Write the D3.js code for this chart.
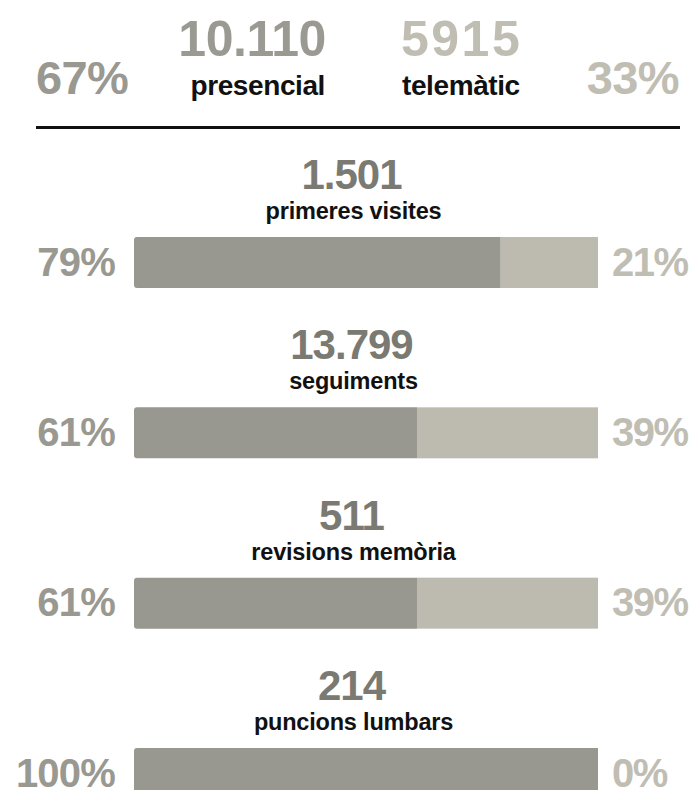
<!DOCTYPE html>
<html>
<head>
<meta charset="utf-8">
<script src="https://cdn.jsdelivr.net/npm/d3@7"></script>
<style>
  html, body { margin: 0; padding: 0; background: #ffffff; }
  svg { display: block; }
  text { font-family: "Liberation Sans", Arial, sans-serif; font-weight: 700; }
</style>
</head>
<body>
<svg id="chart" width="695" height="790"></svg>
<script>
// ---- data ----
const summaryLabels = ["presencial", "telemàtic"];
const summaryTotals = ["10.110", "5915"];
const summaryPct = [67, 33];

const categories = ["primeres visites", "seguiments", "revisions memòria", "puncions lumbars"];
const totals = ["1.501", "13.799", "511", "214"];
const presencialPct = [79, 61, 61, 100];
const telematicPct = [21, 39, 39, 0];

// ---- style ----
const C = {
  dark: "#989890",
  light: "#bdbbb0",
  pctLeft: "#9a9991",
  pctRight: "#c0bdb3",
  num: "#7a7a72",
  topNumLeft: "#9b9a92",
  topNumRight: "#c0bdb2",
  label: "#111111"
};

const svg = d3.select("#chart");
const W = 695;

// ---- header ----
const head = svg.append("g");
head.append("text").attr("x", 36).attr("y", 94)
  .attr("font-size", 47).attr("letter-spacing", -0.6).attr("fill", C.pctLeft)
  .text(summaryPct[0] + "%");
head.append("text").attr("x", 679).attr("y", 94).attr("text-anchor", "end")
  .attr("font-size", 47).attr("letter-spacing", -0.6).attr("fill", C.pctRight)
  .text(summaryPct[1] + "%");

head.append("text").attr("x", 326).attr("y", 56).attr("text-anchor", "end")
  .attr("font-size", 50).attr("letter-spacing", -0.4).attr("fill", C.topNumLeft)
  .text(summaryTotals[0]);
head.append("text").attr("x", 325).attr("y", 95).attr("text-anchor", "end")
  .attr("font-size", 28).attr("letter-spacing", -0.4).attr("fill", C.label)
  .text(summaryLabels[0]);
head.append("text").attr("x", 401).attr("y", 56)
  .attr("font-size", 50).attr("letter-spacing", 2.5).attr("fill", C.topNumRight)
  .text(summaryTotals[1]);
head.append("text").attr("x", 402).attr("y", 95)
  .attr("font-size", 28).attr("letter-spacing", -0.4).attr("fill", C.label)
  .text(summaryLabels[1]);

head.append("line").attr("x1", 36).attr("x2", 680).attr("y1", 127.5).attr("y2", 127.5)
  .attr("stroke", "#111").attr("stroke-width", 3);

// ---- bars ----
const x = d3.scaleLinear().domain([0, 100]).range([134, 598]);
const y = d3.scaleLinear().domain([0, 3]).range([237, 748]);
const barH = 51;
const r = 3;

function leftRounded(x0, y0, w, h, rr) {
  if (w <= 0) return "";
  const p = d3.path();
  p.moveTo(x0 + rr, y0);
  p.lineTo(x0 + w, y0);
  p.lineTo(x0 + w, y0 + h);
  p.lineTo(x0 + rr, y0 + h);
  p.arcTo(x0, y0 + h, x0, y0 + h - rr, rr);
  p.lineTo(x0, y0 + rr);
  p.arcTo(x0, y0, x0 + rr, y0, rr);
  p.closePath();
  return p.toString();
}

const rows = categories.map((c, i) => ({
  cat: c, total: totals[i], pres: presencialPct[i], tele: telematicPct[i], i
}));

const g = svg.append("g").selectAll("g").data(rows).join("g");

g.append("text")
  .attr("x", W / 2 + 4).attr("y", d => y(d.i) - 48)
  .attr("text-anchor", "middle").attr("font-size", 42).attr("letter-spacing", -1)
  .attr("fill", C.num).text(d => d.total);

g.append("text")
  .attr("x", W / 2 + 6).attr("y", d => y(d.i) - 18)
  .attr("text-anchor", "middle").attr("font-size", 23.5).attr("letter-spacing", -0.2)
  .attr("fill", C.label).text(d => d.cat);

g.filter(d => d.tele > 0).append("rect")
  .attr("x", d => x(d.pres)).attr("y", d => y(d.i))
  .attr("width", d => x(100) - x(d.pres)).attr("height", barH)
  .attr("fill", C.light);

g.append("path")
  .attr("d", d => leftRounded(x(0), y(d.i), x(d.pres) - x(0), barH, r))
  .attr("fill", C.dark);

g.append("text")
  .attr("x", 115).attr("y", d => y(d.i) + barH / 2 + 13)
  .attr("text-anchor", "end").attr("font-size", 40).attr("letter-spacing", -0.8)
  .attr("fill", C.pctLeft).text(d => d.pres + "%");

g.append("text")
  .attr("x", 612).attr("y", d => y(d.i) + barH / 2 + 13)
  .attr("font-size", 40).attr("letter-spacing", -1.5)
  .attr("fill", C.pctRight).text(d => d.tele + "%");
</script>
</body>
</html>
